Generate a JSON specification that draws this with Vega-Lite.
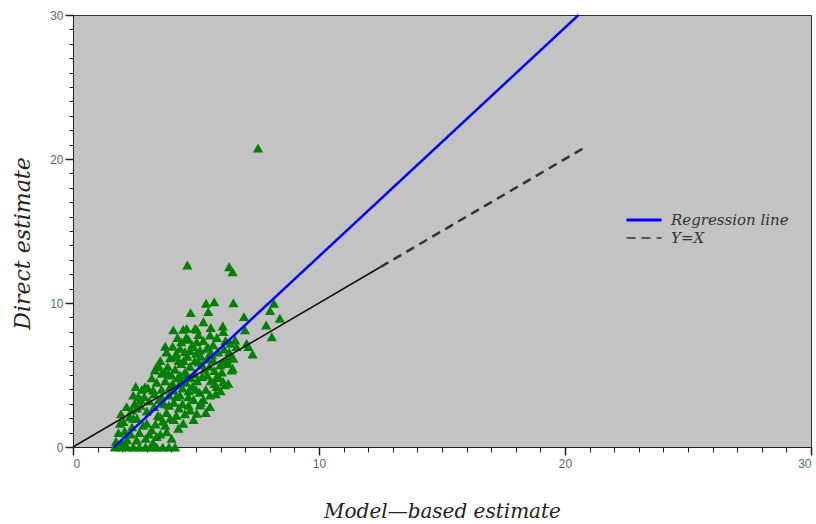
{
  "$schema": "https://vega.github.io/schema/vega-lite/v6.json",
  "width": 738,
  "height": 432,
  "autosize": "none",
  "padding": {"left": 73, "top": 15, "right": 5, "bottom": 77},
  "background": "white",
  "config": {
    "view": {"fill": "#c3c3c3", "stroke": "#333333", "strokeWidth": 1},
    "axis": {"grid": false, "titleFont": "DejaVu Serif", "titleFontStyle": "italic", "titleFontWeight": "normal", "titleFontSize": 20, "titleColor": "#222222"}
  },
  "datasets": {
    "pts": [
      {"x":7.52,"y":20.76},{"x":4.65,"y":12.64},{"x":6.35,"y":12.52},{"x":6.49,"y":12.17},{"x":5.41,"y":9.98},{"x":5.74,"y":10.09},{"x":5.50,"y":9.40},{"x":6.52,"y":10.02},{"x":4.78,"y":9.33},{"x":5.30,"y":8.70},
      {"x":6.95,"y":9.05},{"x":8.17,"y":9.98},{"x":8.01,"y":9.47},{"x":8.41,"y":8.94},{"x":7.85,"y":8.47},{"x":8.08,"y":7.66},{"x":4.08,"y":8.13},{"x":4.48,"y":8.17},{"x":4.62,"y":8.24},{"x":5.03,"y":8.17},
      {"x":6.09,"y":8.40},{"x":6.11,"y":8.01},{"x":5.57,"y":7.78},{"x":6.99,"y":8.13},{"x":4.69,"y":7.48},{"x":5.03,"y":7.31},{"x":6.59,"y":7.43},{"x":6.65,"y":6.97},{"x":4.35,"y":6.85},{"x":4.55,"y":6.62},
      {"x":4.15,"y":6.27},{"x":4.89,"y":6.97},{"x":5.16,"y":6.74},{"x":5.43,"y":6.85},{"x":5.57,"y":6.51},{"x":7.13,"y":6.97},{"x":7.30,"y":6.46},{"x":6.45,"y":6.27},{"x":6.25,"y":6.04},{"x":3.47,"y":5.69},
      {"x":3.33,"y":5.35},{"x":3.61,"y":5.12},{"x":6.49,"y":5.47},{"x":5.84,"y":4.88},{"x":6.31,"y":4.42},{"x":6.18,"y":4.31},{"x":2.93,"y":4.19},{"x":2.65,"y":3.49},{"x":2.39,"y":2.57},{"x":1.91,"y":1.65},
      {"x":3.40,"y":5.57},{"x":3.87,"y":5.12},{"x":3.26,"y":3.96},{"x":4.35,"y":5.0},{"x":4.08,"y":3.96},{"x":4.69,"y":3.49},{"x":5.16,"y":2.92},{"x":5.57,"y":2.80},{"x":5.03,"y":2.34},{"x":5.57,"y":3.61},
      {"x":5.84,"y":4.19},{"x":2.18,"y":2.80},{"x":2.05,"y":1.76},{"x":2.45,"y":1.99},{"x":3.0,"y":1.65},{"x":3.54,"y":2.11},{"x":4.28,"y":1.30},{"x":3.81,"y":1.06},{"x":3.40,"y":0.72},{"x":2.59,"y":0.49},
      {"x":4.01,"y":0.60},{"x":4.48,"y":1.65},{"x":4.76,"y":2.57},{"x":4.96,"y":8.24},{"x":7.06,"y":7.20},{"x":6.45,"y":5.35},{"x":6.11,"y":4.53},{"x":5.70,"y":6.04},{"x":5.98,"y":5.69},{"x":6.52,"y":6.16},
      {"x":1.7,"y":0},{"x":1.95,"y":0},{"x":2.2,"y":0},{"x":2.45,"y":0},{"x":2.7,"y":0},{"x":2.95,"y":0},{"x":3.15,"y":0},{"x":3.4,"y":0},{"x":3.65,"y":0},{"x":3.9,"y":0},{"x":4.15,"y":0},
      {"x":3.0,"y":2.5},{"x":3.1,"y":3.2},{"x":3.2,"y":1.2},{"x":3.3,"y":2.8},{"x":3.4,"y":4.5},{"x":3.5,"y":3.3},{"x":3.1,"y":0.9},{"x":3.2,"y":4.8},{"x":3.45,"y":2.2},{"x":3.35,"y":1.6},
      {"x":3.6,"y":4.0},{"x":3.7,"y":3.0},{"x":3.75,"y":4.6},{"x":3.8,"y":2.4},{"x":3.85,"y":5.6},{"x":3.9,"y":3.6},{"x":3.95,"y":6.2},{"x":3.65,"y":1.8},{"x":3.7,"y":5.2},{"x":3.9,"y":2.9},{"x":3.55,"y":6.0},{"x":3.8,"y":6.6},
      {"x":4.05,"y":4.4},{"x":4.1,"y":3.1},{"x":4.15,"y":5.4},{"x":4.2,"y":2.2},{"x":4.25,"y":4.8},{"x":4.3,"y":6.0},{"x":4.35,"y":3.6},{"x":4.4,"y":5.8},{"x":4.45,"y":4.1},{"x":4.05,"y":7.0},{"x":4.2,"y":6.5},{"x":4.3,"y":2.7},{"x":4.4,"y":7.3},{"x":4.1,"y":1.9},{"x":4.45,"y":3.0},
      {"x":4.55,"y":5.2},{"x":4.6,"y":4.5},{"x":4.65,"y":6.3},{"x":4.7,"y":3.9},{"x":4.75,"y":5.6},{"x":4.8,"y":4.8},{"x":4.85,"y":7.1},{"x":4.9,"y":3.3},{"x":4.95,"y":6.0},{"x":4.6,"y":7.6},{"x":4.7,"y":2.9},{"x":4.85,"y":4.2},{"x":4.5,"y":6.0},{"x":4.95,"y":5.1},
      {"x":5.05,"y":4.6},{"x":5.1,"y":5.9},{"x":5.15,"y":3.8},{"x":5.2,"y":6.3},{"x":5.25,"y":4.9},{"x":5.3,"y":7.4},{"x":5.35,"y":5.4},{"x":5.4,"y":4.0},{"x":5.45,"y":6.1},{"x":5.1,"y":7.8},{"x":5.3,"y":3.3},{"x":5.45,"y":5.0},
      {"x":5.55,"y":5.6},{"x":5.6,"y":4.6},{"x":5.65,"y":6.4},{"x":5.7,"y":7.1},{"x":5.75,"y":5.3},{"x":5.8,"y":3.7},{"x":5.9,"y":6.6},{"x":5.95,"y":4.8},{"x":5.6,"y":8.3},{"x":5.85,"y":7.6},
      {"x":6.05,"y":5.2},{"x":6.15,"y":6.8},{"x":6.2,"y":7.4},{"x":6.3,"y":5.8},{"x":6.4,"y":7.2},{"x":6.0,"y":3.9},
      {"x":2.1,"y":1.1},{"x":2.2,"y":0.5},{"x":2.3,"y":2.1},{"x":2.4,"y":1.4},{"x":2.5,"y":3.0},{"x":2.6,"y":2.0},{"x":2.7,"y":1.0},{"x":2.75,"y":2.9},{"x":2.8,"y":4.0},{"x":2.85,"y":1.5},{"x":2.9,"y":3.5},{"x":2.95,"y":0.6},{"x":2.55,"y":4.2},{"x":2.45,"y":3.6},
      {"x":1.75,"y":0.4},{"x":1.85,"y":1.0},{"x":1.95,"y":2.3},
      {"x":3.25,"y":0.3},{"x":3.55,"y":0.9},{"x":3.75,"y":1.5},{"x":3.95,"y":2.0},{"x":4.2,"y":3.5},{"x":4.55,"y":2.3},{"x":4.9,"y":1.9},{"x":5.2,"y":3.1},{"x":5.4,"y":2.4},{"x":5.0,"y":4.0},
      {"x":4.65,"y":5.0},{"x":4.4,"y":4.6},{"x":4.0,"y":5.0},{"x":3.6,"y":3.5},{"x":3.3,"y":3.7},{"x":3.05,"y":4.1},{"x":2.75,"y":3.3},{"x":2.6,"y":2.7},{"x":2.35,"y":0.9},{"x":2.0,"y":0.3},
      {"x":5.25,"y":5.7},{"x":5.5,"y":6.9},{"x":5.75,"y":4.4},{"x":6.1,"y":5.9},{"x":6.35,"y":6.6},{"x":5.0,"y":6.5},{"x":4.75,"y":6.7},{"x":4.25,"y":7.6},{"x":3.75,"y":7.0},{"x":3.95,"y":4.2}
    ],
    "solid": [
      {"x":0,"y":0},{"x":12.5,"y":12.5}
    ],
    "lines": [
      {"x":1.67,"y":0,"series":"Regression line"},
      {"x":20.55,"y":30,"series":"Regression line"},
      {"x":12.5,"y":12.5,"series":"Y=X"},
      {"x":20.8,"y":20.8,"series":"Y=X"}
    ]
  },
  "layer": [
    {
      "data": {"name": "pts"},
      "mark": {"type": "point", "shape": "triangle-up", "filled": true, "color": "#008000", "opacity": 1, "size": 105},
      "encoding": {
        "x": {"field": "x", "type": "quantitative", "scale": {"domain": [0, 30], "nice": false},
          "axis": {"values": [0,1,2,3,4,5,6,7,8,9,10,11,12,13,14,15,16,17,18,19,20,21,22,23,24,25,26,27,28,29,30], "labelExpr": "datum.value % 10 === 0 ? datum.label : ''", "ticks": true, "tickSize": 5, "tickWidth": 1, "tickColor": "#222222", "domainColor": "#222222", "labelColor": "#666666", "labelFont": "Liberation Sans", "labelFontSize": 12, "labelPadding": 6, "title": "Model\u2014based estimate", "titleY": 54, "titleBaseline": "top", "orient": "bottom"}},
        "y": {"field": "y", "type": "quantitative", "scale": {"domain": [0, 30], "nice": false},
          "axis": {"values": [0,1,2,3,4,5,6,7,8,9,10,11,12,13,14,15,16,17,18,19,20,21,22,23,24,25,26,27,28,29,30], "labelExpr": "datum.value % 10 === 0 ? datum.label : ''", "ticks": true, "tickSize": 4, "tickWidth": 1, "tickColor": "#222222", "domainColor": "#222222", "labelColor": "#666666", "labelFont": "Liberation Sans", "labelFontSize": 12, "labelPadding": 6, "title": "Direct estimate", "titleFontSize": 22, "titleX": -51, "titleBaseline": "middle", "titleY": 228, "orient": "left"}}
      }
    },
    {
      "data": {"name": "solid"},
      "mark": {"type": "line", "color": "#111111", "strokeWidth": 1.5},
      "encoding": {
        "x": {"field": "x", "type": "quantitative", "axis": {"values": [0, 10, 20, 30], "ticks": true, "tickSize": 8, "tickWidth": 1.5, "tickColor": "#222222", "labels": false, "domain": false, "title": null, "orient": "bottom"}},
        "y": {"field": "y", "type": "quantitative", "axis": {"values": [0, 10, 20, 30], "ticks": true, "tickSize": 8, "tickWidth": 1.5, "tickColor": "#222222", "labels": false, "domain": false, "title": null, "orient": "left"}}
      }
    },
    {
      "data": {"name": "lines"},
      "mark": {"type": "line", "strokeWidth": 2.5},
      "encoding": {
        "x": {"field": "x", "type": "quantitative", "axis": null},
        "y": {"field": "y", "type": "quantitative", "axis": null},
        "color": {"field": "series", "type": "nominal", "scale": {"domain": ["Regression line", "Y=X"], "range": ["#0000ff", "#333333"]},
          "legend": {"title": null, "orient": "none", "legendX": 552, "legendY": 196, "symbolType": "stroke", "symbolSize": 1225, "symbolStrokeWidth": 2.5, "labelFont": "DejaVu Serif", "labelFontStyle": "italic", "labelFontSize": 15, "labelColor": "#333333", "rowPadding": -9, "labelOffset": 8, "clipHeight": 18}},
        "strokeDash": {"field": "series", "type": "nominal", "scale": {"domain": ["Regression line", "Y=X"], "range": [[1, 0], [9, 6]]}, "legend": null},
        "strokeWidth": {"field": "series", "type": "nominal", "scale": {"domain": ["Regression line", "Y=X"], "range": [3, 1.5]}, "legend": null}
      }
    }
  ],
  "resolve": {"axis": {"x": "independent", "y": "independent"}}
}
